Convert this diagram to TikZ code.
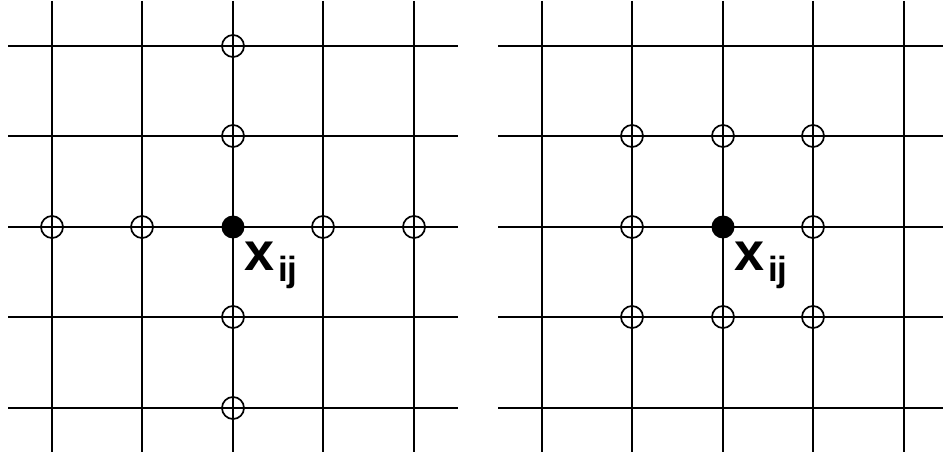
\documentclass[tikz,border=0pt]{standalone}
\usepackage{fontspec}
\setmainfont{Liberation Sans}
\begin{document}
\begin{tikzpicture}[x=1pt,y=-1pt,
  gridline/.style={line width=2pt,black},
  opendot/.style={circle,draw=black,line width=1.7pt,fill=none,minimum size=22pt,inner sep=0pt},
  fulldot/.style={circle,fill=black,minimum size=23pt,inner sep=0pt},
  lbl/.style={anchor=base west,inner sep=0pt,font=\bfseries}]
\useasboundingbox (0,0) rectangle (943,454);
% grids
\foreach \ox in {0,490}{
  \foreach \p in {52,142,233,323,414}{
    \draw[gridline] (\p+\ox,1) -- (\p+\ox,452);
  }
  \foreach \q in {46,136,227,317,408}{
    \draw[gridline] (8+\ox,\q) -- ({min(458+\ox,943)},\q);
  }
}
% left: cross neighbourhood
\foreach \n/\x/\y in {lt2/233/46,lt1/233/136,ll2/52/227,ll1/142/227,lr1/323/227,lr2/414/227,lb1/233/317,lb2/233/408}{
  \node[opendot] (\n) at (\x,\y) {};
}
\node[fulldot] (lc) at (233,227) {};
\node[lbl] (lx) at (244,271) {\fontsize{54}{54}\selectfont x\fontsize{35}{35}\selectfont\raisebox{-11pt}{\hspace{4pt}ij}};
% right: 8-neighbourhood
\foreach \n/\x/\y in {r1/632/136,r2/723/136,r3/813/136,r4/632/227,r5/813/227,r6/632/317,r7/723/317,r8/813/317}{
  \node[opendot] (\n) at (\x,\y) {};
}
\node[fulldot] (rc) at (723,227) {};
\node[lbl] (rx) at (734,271) {\fontsize{54}{54}\selectfont x\fontsize{35}{35}\selectfont\raisebox{-11pt}{\hspace{4pt}ij}};
\end{tikzpicture}
\end{document}
